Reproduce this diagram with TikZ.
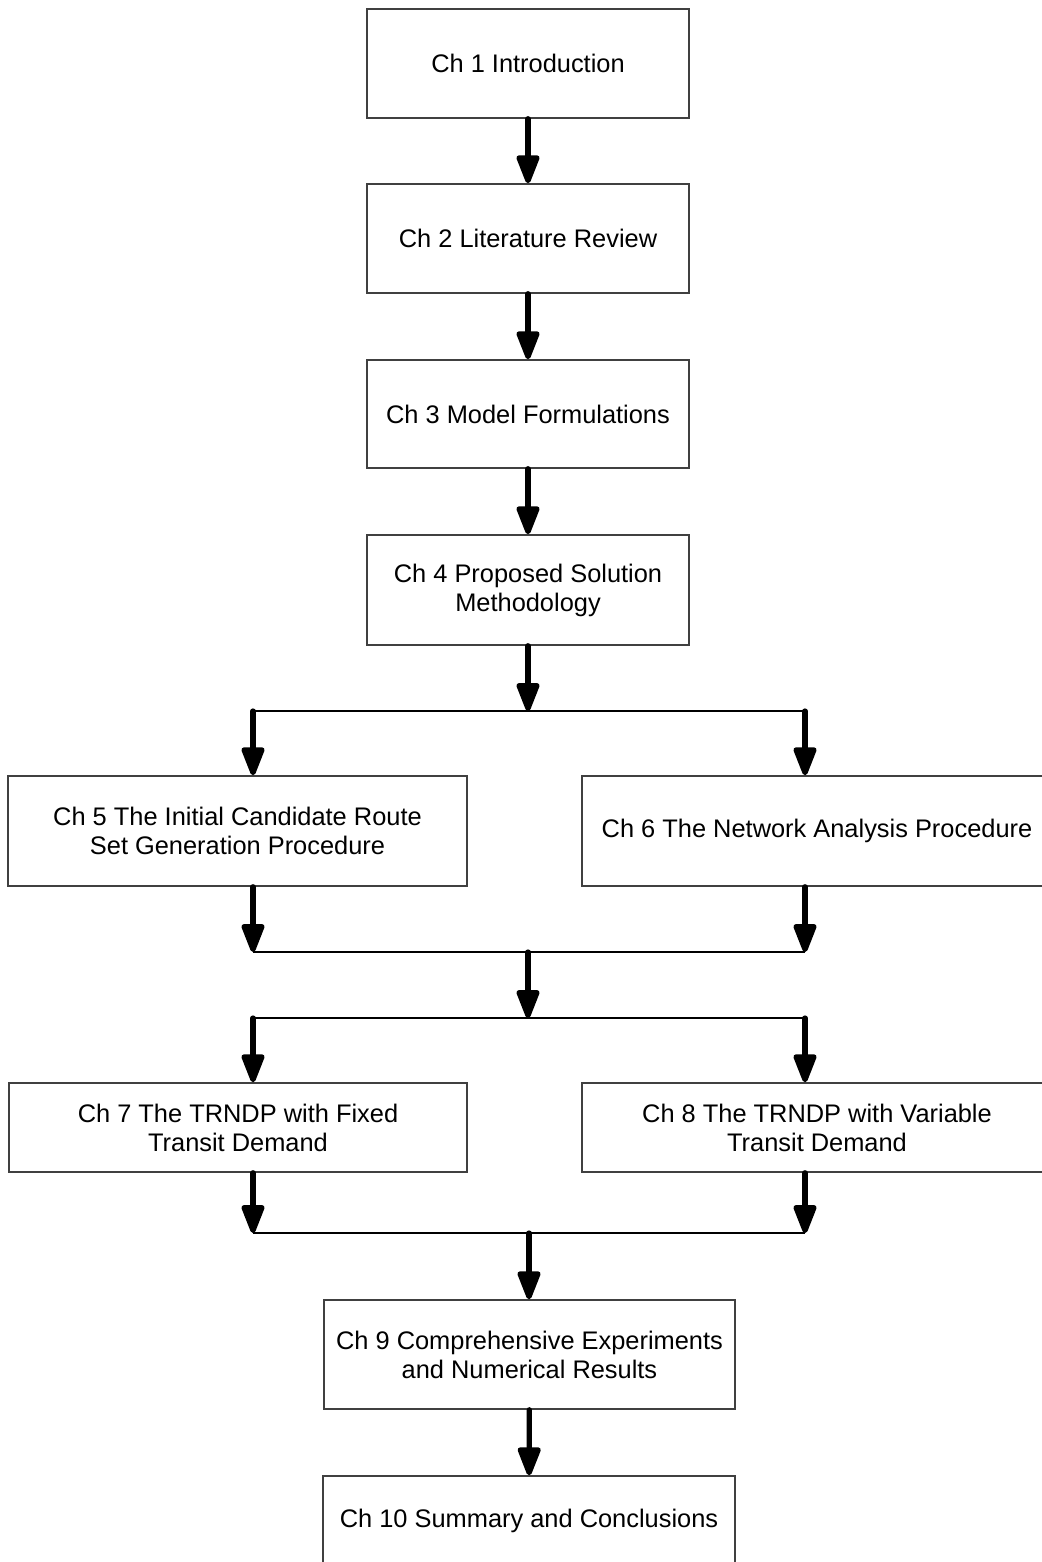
\documentclass[tikz,border=0pt]{standalone}
\usepackage{fontspec}
\setmainfont{Liberation Sans}
\usetikzlibrary{arrows.meta}
\begin{document}
\begin{tikzpicture}[x=0.5pt,y=-0.5pt,
  chapter/.style={draw=black!75, line width=0.75pt, fill=white, inner sep=2pt,
    align=center, font=\fontsize{12.7pt}{14.5pt}\selectfont},
  flow/.style={line width=2.6pt, line cap=round,
    -{Triangle[length=16.5pt,width=12pt,round=false]}},
  bus/.style={line width=1.4pt, line cap=round},
  joinbus/.style={line width=0.9pt}]
\useasboundingbox (0,0) rectangle (1042,1562);
\clip (0,0) rectangle (1042,1562);

% chapter boxes
\node[chapter, minimum width=161pt, minimum height=54.5pt] (b1) at (528,63.5) {Ch 1 Introduction};
\node[chapter, minimum width=161pt, minimum height=54.5pt] (b2) at (528,238.5) {Ch 2 Literature Review};
\node[chapter, minimum width=161pt, minimum height=54pt] (b3) at (528,414) {Ch 3 Model Formulations};
\node[chapter, minimum width=161pt, minimum height=55pt] (b4) at (528,590) {Ch 4 Proposed Solution\\Methodology};
\node[chapter, minimum width=229.5pt, minimum height=55pt] (b5) at (237.5,831) {Ch 5 The Initial Candidate Route\\Set Generation Procedure};
\node[chapter, minimum width=235pt, minimum height=55pt] (b6) at (817,831) {Ch 6 The Network Analysis Procedure};
\node[chapter, minimum width=229pt, minimum height=44.5pt] (b7) at (238,1127.5) {Ch 7 The TRNDP with Fixed\\Transit Demand};
\node[chapter, minimum width=235pt, minimum height=44.5pt] (b8) at (817,1127.5) {Ch 8 The TRNDP with Variable\\Transit Demand};
\node[chapter, minimum width=205.5pt, minimum height=54.5pt] (b9) at (529.5,1354.5) {Ch 9 Comprehensive Experiments\\and Numerical Results};
\node[chapter, minimum width=206pt, minimum height=44.5pt] (b10) at (529,1520.5) {Ch 10 Summary and Conclusions};

% branch and join points
\coordinate (s1) at (528,711);   \coordinate (s1l) at (253,711);  \coordinate (s1r) at (805,711);
\coordinate (m1) at (528,952);   \coordinate (m1l) at (253,952);  \coordinate (m1r) at (805,952);
\coordinate (s2) at (528,1018);  \coordinate (s2l) at (253,1018); \coordinate (s2r) at (805,1018);
\coordinate (m2) at (529,1233);  \coordinate (m2l) at (253,1233); \coordinate (m2r) at (805,1233);

% straight chain
\draw[flow] (b1) -- (b2);
\draw[flow] (b2) -- (b3);
\draw[flow] (b3) -- (b4);

% split after Ch 4
\draw[bus] (s1l) -- (s1r);
\draw[flow] (b4.south) -- (s1);
\draw[flow] (s1l) -- (b5.north -| s1l);
\draw[flow] (s1r) -- (b6.north -| s1r);

% join after Ch 5 / Ch 6
\draw[joinbus] (m1l) -- (m1r);
\draw[flow] (b5.south -| m1l) -- (m1l);
\draw[flow] (b6.south -| m1r) -- (m1r);
\draw[flow] (m1) -- (s2);

% split before Ch 7 / Ch 8
\draw[bus] (s2l) -- (s2r);
\draw[flow] (s2l) -- (b7.north -| s2l);
\draw[flow] (s2r) -- (b8.north -| s2r);

% join after Ch 7 / Ch 8
\draw[joinbus] (m2l) -- (m2r);
\draw[flow] (b7.south -| m2l) -- (m2l);
\draw[flow] (b8.south -| m2r) -- (m2r);
\draw[flow] (m2) -- (b9.north -| m2);

\draw[flow] (b9) -- (b10);
\end{tikzpicture}
\end{document}
